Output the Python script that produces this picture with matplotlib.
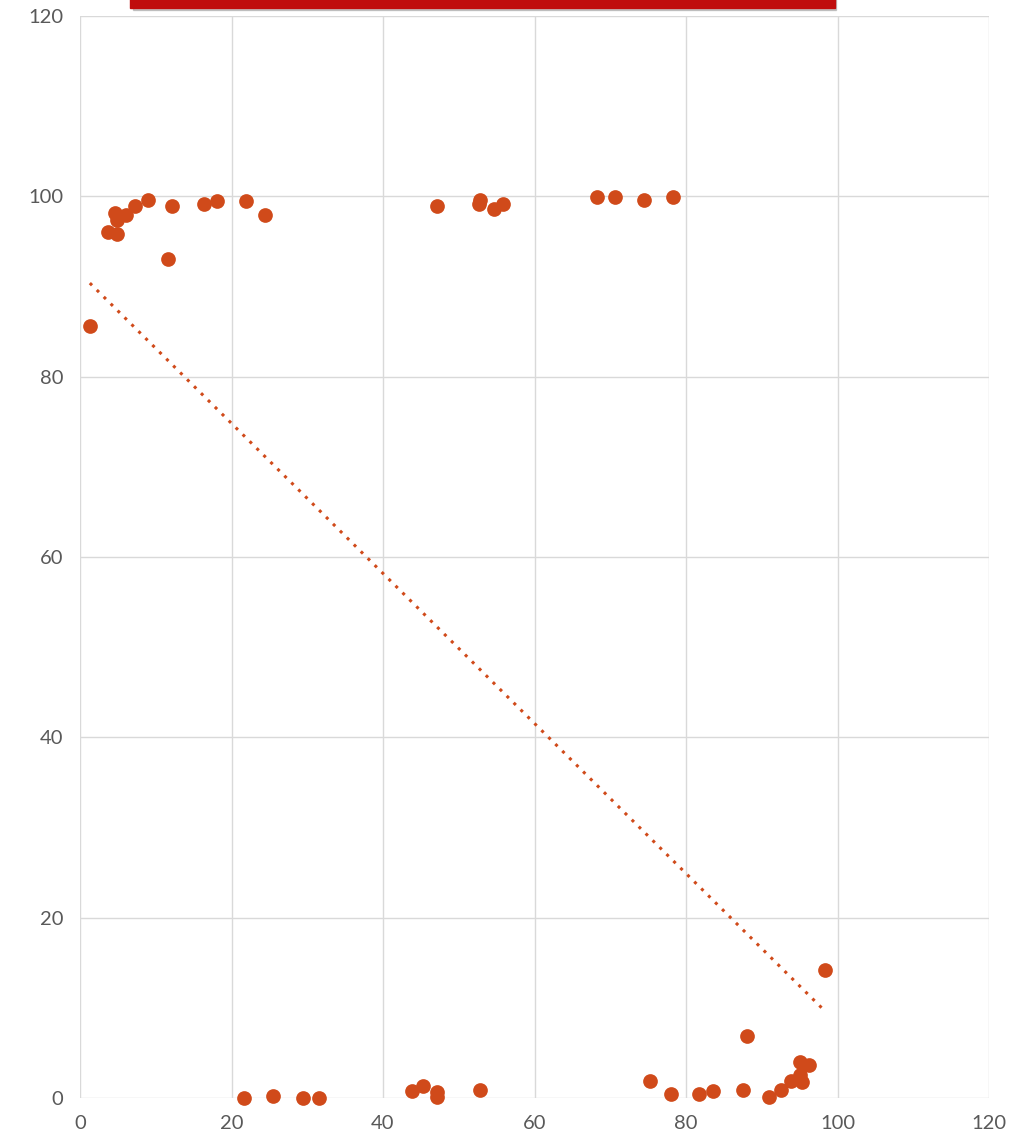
import matplotlib
matplotlib.use('Agg')
import matplotlib.pyplot as plt
import numpy as np
from matplotlib.patches import Rectangle

# Pontos (x, y)
x_vals = [1.3, 3.7, 4.6, 4.9, 4.9, 6.1, 7.3, 9.0, 11.6, 12.1, 16.4, 18.1,
          21.9, 24.4, 47.1, 52.7, 52.8, 54.7, 55.8, 68.3, 70.6, 74.5, 78.3,
          21.7, 25.5, 29.4, 31.6, 43.8, 45.3, 47.1, 47.1, 52.8, 75.2, 78.0,
          81.7, 83.6, 87.5, 88.1, 91.0, 92.5, 93.9, 95.0, 95.0, 95.3, 96.2,
          98.4]
y_vals = [85.6, 96.0, 98.1, 97.4, 95.8, 97.9, 98.9, 99.6, 93.0, 98.9, 99.1,
          99.5, 99.5, 97.9, 98.9, 99.1, 99.6, 98.6, 99.1, 99.9, 99.9, 99.6,
          99.9, 0.0, 0.2, 0.0, 0.0, 0.8, 1.3, 0.7, 0.1, 0.9, 1.9, 0.4, 0.4,
          0.8, 0.9, 6.9, 0.1, 0.9, 1.9, 4.0, 2.6, 1.8, 3.7, 14.2]
x_ticks = [0, 20, 40, 60, 80, 100, 120]
y_ticks = [0, 20, 40, 60, 80, 100, 120]

cor = '#D04A1A'

fig = plt.figure(figsize=(10.19, 11.40), dpi=100)
ax = fig.add_axes([80 / 1019, 1 - 1098 / 1140, 909 / 1019, 1082 / 1140])

ax.scatter(x_vals, y_vals, s=112, color=cor, zorder=3, linewidths=0,
           clip_on=False)

# Linha de tendência linear
coef = np.polyfit(x_vals, y_vals, 1)
xt = np.array([min(x_vals), max(x_vals)])
ax.plot(xt, np.polyval(coef, xt), color=cor, linestyle=(0, (1, 2.2)),
        linewidth=2.2, zorder=2)

ax.set_xlim(0, 120)
ax.set_ylim(0, 120)
ax.set_xticks(x_ticks)
ax.set_yticks(y_ticks)
ax.grid(True, color='#D9D9D9', linewidth=1)
ax.set_axisbelow(True)
for s in ax.spines.values():
    s.set_visible(False)
ax.tick_params(length=0, labelsize=14.5, labelcolor='#595959', pad=12)
for lbl in ax.get_xticklabels() + ax.get_yticklabels():
    lbl.set_fontfamily('Lato')

# Caixa de título vermelha cortada no topo
fig.patches.append(Rectangle((133 / 1019, 1 - 10 / 1140), 703 / 1019, 12 / 1140,
                             transform=fig.transFigure, color='#999999',
                             alpha=0.5, zorder=0))
fig.patches.append(Rectangle((130 / 1019, 1 - 8 / 1140), 705 / 1019, 10 / 1140,
                             transform=fig.transFigure, color='#C00D0D',
                             zorder=1))

fig.savefig('out.png', dpi=100)
